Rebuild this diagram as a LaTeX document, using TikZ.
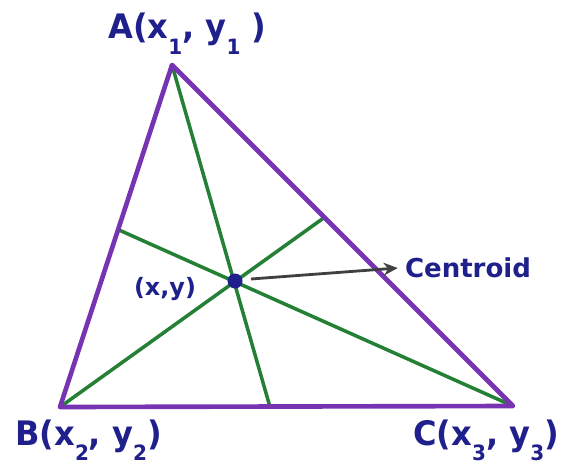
\documentclass[tikz,border=0pt]{standalone}
\usepackage{fontspec}
\setmainfont{DejaVu Sans}
\usetikzlibrary{arrows.meta}
\definecolor{cSide}{RGB}{118,52,178}
\definecolor{cMed} {RGB}{36,128,52}
\definecolor{cText}{RGB}{32,32,140}
\definecolor{cArr} {RGB}{64,64,64}

% lowered subscript as in the picture
\newcommand\lowsub[1]{\raisebox{-11pt}{\fontsize{15}{15}\selectfont #1}}

\begin{document}
\begin{tikzpicture}[x=0.025cm, y=-0.025cm]

%% ── shared styles ─────────────────────────────────────────────────────────
\tikzset{
  side/.style={draw=cSide, line width=3.3pt, line join=round},
  med/.style ={draw=cMed, line width=2.5pt},
  lbl/.style ={font=\fontsize{24}{28}\selectfont\bfseries, text=cText, inner sep=0pt},
  small/.style={font=\fontsize{17}{20}\selectfont\bfseries, text=cText, inner sep=0pt},
  arr/.style ={-{Stealth[length=10pt, width=9pt]}, line width=2.0pt, cArr},
}

\useasboundingbox (0,0) rectangle (569,466);

%% ── vertices and side points ──────────────────────────────────────────────
\coordinate (A)   at (172, 65);
\coordinate (B)   at ( 60,407);
\coordinate (C)   at (513,406);
\coordinate (mAB) at (119,230);
\coordinate (mAC) at (325,217);
\coordinate (mBC) at (270,407);
\coordinate (G)   at (235,281);

%% ── medians ───────────────────────────────────────────────────────────────
\draw[med] (A)--(mBC);
\draw[med] (B)--(mAC);
\draw[med] (C)--(mAB);

%% ── triangle ──────────────────────────────────────────────────────────────
\draw[side] (A)--(B)--(C)--cycle;

%% ── centroid ──────────────────────────────────────────────────────────────
\fill[cText] (G) circle (7.5);
\node[small] (Glbl) at (165,289) {(x,y)};
\node[lbl, font=\fontsize{18.5}{22}\selectfont\bfseries] (Cent) at (468,268) {Centroid};
\draw[arr] (251,279) -- ([xshift=-5]Cent.west);

%% ── vertex labels ─────────────────────────────────────────────────────────
\node[lbl, anchor=base west] (Albl) at (108,39)
  {\scalebox{0.95}[1]{A(x\lowsub{1}, y\lowsub{1} )}};
\node[lbl, anchor=base west] (Blbl) at ( 15,445)
  {\scalebox{0.95}[1]{B(x\lowsub{2}, y\lowsub{2})}};
\node[lbl, anchor=base west] (Clbl) at (413,445)
  {\scalebox{0.95}[1]{C(x\lowsub{3}, y\lowsub{3})}};

\end{tikzpicture}
\end{document}
